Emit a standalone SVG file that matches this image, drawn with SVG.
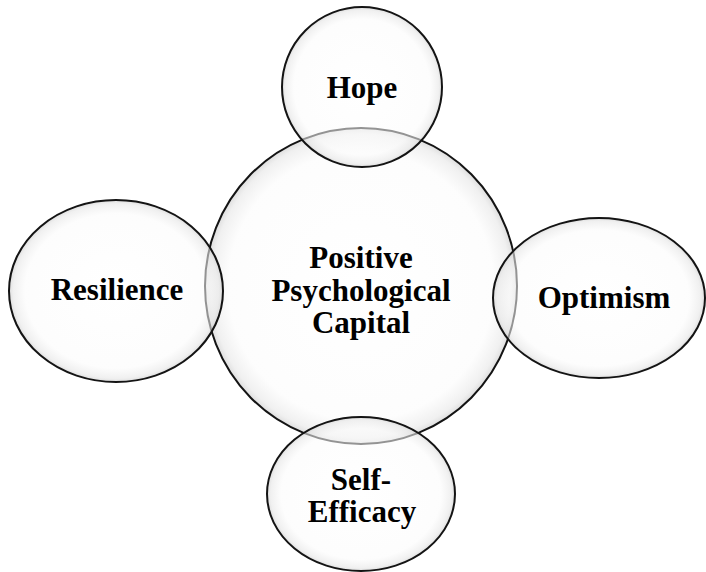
<svg xmlns="http://www.w3.org/2000/svg" width="706" height="572" viewBox="0 0 706 572">
<defs>
<radialGradient id="g" cx="50%" cy="50%" r="50%">
<stop offset="0" stop-color="#ffffff" stop-opacity="0.55"/>
<stop offset="0.85" stop-color="#fbfbfb" stop-opacity="0.55"/>
<stop offset="0.96" stop-color="#e6e6e6" stop-opacity="0.6"/>
<stop offset="1" stop-color="#cfcfcf" stop-opacity="0.7"/>
</radialGradient>
<style>
.e{fill:url(#g);stroke:#141414;stroke-width:2}
.t{font-family:"Liberation Serif","Times New Roman",serif;font-weight:bold;font-size:31px;fill:#000;text-anchor:middle}
</style>
</defs>
<rect width="706" height="572" fill="#ffffff"/>
<g id="center">
<ellipse class="e" cx="361" cy="286" rx="156" ry="158"/>
<text class="t" x="361" y="268">Positive</text>
<text class="t" x="361" y="301">Psychological</text>
<text class="t" x="361" y="333">Capital</text>
</g>
<g id="hope">
<ellipse class="e" cx="362" cy="87" rx="80" ry="80"/>
<text class="t" x="362" y="98">Hope</text>
</g>
<g id="resilience">
<ellipse class="e" cx="116" cy="291" rx="107" ry="91"/>
<text class="t" x="117" y="300">Resilience</text>
</g>
<g id="optimism">
<ellipse class="e" cx="599" cy="298" rx="106" ry="80"/>
<text class="t" x="604" y="308">Optimism</text>
</g>
<g id="selfefficacy">
<ellipse class="e" cx="361" cy="494" rx="94" ry="77"/>
<text class="t" x="361" y="490">Self-</text>
<text class="t" x="362" y="522">Efficacy</text>
</g>
</svg>
